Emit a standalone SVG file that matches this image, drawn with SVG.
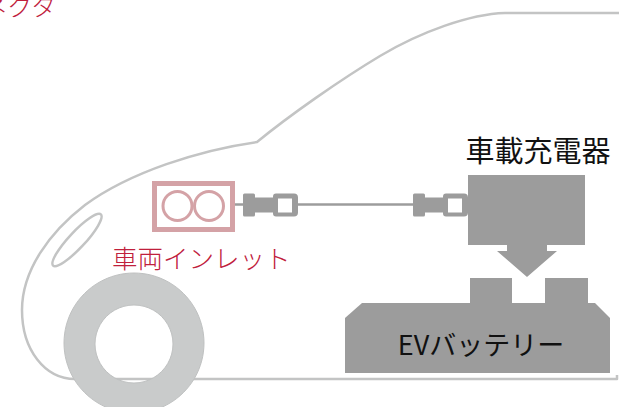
<svg xmlns="http://www.w3.org/2000/svg" width="619" height="407" viewBox="0 0 619 407">
  <style>
    .body { fill: none; stroke: #c3c4c4; stroke-width: 2.5; stroke-linejoin: round; }
    .unit { fill: #9c9c9c; }
    .cable { stroke: #9c9c9c; stroke-width: 2.5; fill: none; }
    .red { font-family: "Noto Sans CJK JP", "Noto Sans", sans-serif; fill: #c0203c; font-weight: 300; }
    .lbl { font-family: "Noto Sans CJK JP", "Noto Sans", sans-serif; fill: #111; font-weight: 400; }
  </style>
  <defs>
    <!-- plug head: collar, neck, hollow socket -->
    <g id="plug">
      <rect class="unit" x="0" y="-11" width="12" height="23" rx="1.5"/>
      <rect class="unit" x="11" y="-7" width="20" height="15"/>
      <path class="unit" fill-rule="evenodd" d="M 33,-11 h 18 a 4,4 0 0 1 4,4 v 15 a 4,4 0 0 1 -4,4 h -18 a 3,3 0 0 1 -3,-3 v -17 a 3,3 0 0 1 3,-3 Z M 35,-6 v 14 h 14 v -14 Z"/>
    </g>
  </defs>
  <rect width="619" height="407" fill="#ffffff"/>

  <!-- car silhouette -->
  <g id="car">
    <path class="body" d="M 621,13 L 505,13 C 470,14 420,32 380,56 C 340,80 290,115 257,142 C 200,150 130,172 85,205 C 50,232 22,270 22,310 C 22,350 45,379 75,379 L 617,379 L 617,375"/>
    <ellipse class="body" cx="77" cy="240" rx="35" ry="8" transform="rotate(-47 77 240)"/>
    <g id="tire">
      <path fill="#c9cbcb" stroke="#bfc1c1" stroke-width="1" fill-rule="evenodd" d="M 134,273 a 70,70 0 1 0 0.01,0 Z M 134,305 a 39,39 0 1 1 -0.01,0 Z"/>
    </g>
  </g>

  <!-- label running off the top edge -->
  <text class="red" x="56" y="16" font-size="25" text-anchor="end">コネクタ</text>

  <!-- cable between inlet and charger -->
  <g id="connectors">
    <line class="cable" x1="234" y1="204.5" x2="244" y2="204.5"/>
    <line class="cable" x1="296" y1="204.5" x2="414" y2="204.5"/>
    <use href="#plug" x="243" y="204.5"/>
    <use href="#plug" x="413" y="204.5"/>
  </g>

  <g id="inlet">
    <rect x="154.5" y="183.5" width="78" height="46" fill="#ffffff" stroke="#d4a2a6" stroke-width="5"/>
    <circle cx="177.5" cy="206" r="14.5" fill="none" stroke="#d4a2a6" stroke-width="3"/>
    <circle cx="209" cy="206" r="14.5" fill="none" stroke="#d4a2a6" stroke-width="3"/>
    <text class="red" x="112" y="268" font-size="25.5">車両インレット</text>
  </g>

  <g id="charger">
    <text class="lbl" x="538" y="162" font-size="29" text-anchor="middle">車載充電器</text>
    <path class="unit" d="M 468,175 H 585 V 245 H 547 V 251 H 557 L 527,277 L 497,251 H 507 V 245 H 468 Z"/>
  </g>

  <g id="battery">
    <rect class="unit" x="470" y="278" width="42" height="27"/>
    <rect class="unit" x="545" y="278" width="43" height="27"/>
    <path class="unit" d="M 362,303 H 595 L 610,318 V 373 H 345 V 318 Z"/>
    <text class="lbl" x="481" y="355" font-size="27" text-anchor="middle">EVバッテリー</text>
  </g>
</svg>
